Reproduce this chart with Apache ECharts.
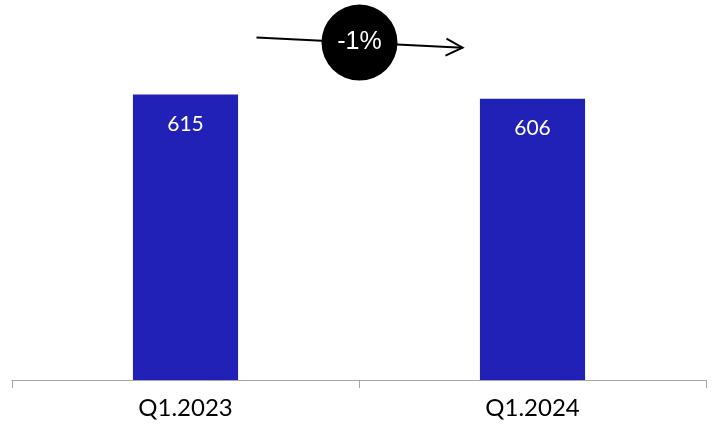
<!DOCTYPE html>
<html><head><meta charset="utf-8">
<script src="https://cdn.jsdelivr.net/npm/echarts@6/dist/echarts.min.js"></script>
<style>html,body{margin:0;padding:0;background:#fff}#c{width:718px;height:425px}</style>
</head><body><div id="c"></div>
<script>
const categories = ['Q1.2023', 'Q1.2024'];
const values = [615, 606];
const changeLabel = '-1%';

const chart = echarts.init(document.getElementById('c'));
const option = {
  animation: false,
  grid: { left: 12, right: 12, top: 55, bottom: 45 },
  xAxis: {
    type: 'category', data: categories,
    axisLine: { lineStyle: { color: '#a6a6a6', width: 1 } },
    axisTick: { show: true, length: 8, lineStyle: { color: '#a6a6a6' } },
    axisLabel: { color: '#000', fontSize: 24, fontFamily: 'Lato', margin: 16 }
  },
  yAxis: { type: 'value', min: 0, max: 700, show: false, splitLine: { show: false } },
  series: [{
    type: 'bar', data: values, barWidth: '30.3%',
    itemStyle: { color: '#2121b8' },
    label: { show: true, position: 'insideTop', distance: 19, color: '#fff', fontSize: 21, fontFamily: 'Lato' }
  }]
};
chart.setOption(option);

const p0 = chart.convertToPixel({ seriesIndex: 0 }, [0, values[0]]);
const p1 = chart.convertToPixel({ seriesIndex: 0 }, [1, values[1]]);
const x0 = p0[0] + 71, y0 = p0[1] - 57;
const x1 = p1[0] - 70, y1 = p1[1] - 51;
const cx = (x0 + x1) / 2, cy = (y0 + y1) / 2;
chart.setOption({
  graphic: [
    { type: 'line', shape: { x1: x0, y1: y0, x2: x1, y2: y1 }, style: { stroke: '#000', lineWidth: 2 }, z: 10 },
    { type: 'polyline', shape: { points: [[x1 - 16, y1 - 9], [x1, y1], [x1 - 17, y1 + 8]] }, style: { stroke: '#000', lineWidth: 2, fill: null }, z: 10 },
    { type: 'circle', shape: { cx: cx, cy: cy, r: 38 }, style: { fill: '#000' }, z: 11 },
    { type: 'text', x: cx, y: cy, style: { text: changeLabel, fill: '#fff', fontSize: 25, fontFamily: 'Liberation Sans', align: 'center', verticalAlign: 'middle' }, z: 12 }
  ]
});
</script></body></html>
